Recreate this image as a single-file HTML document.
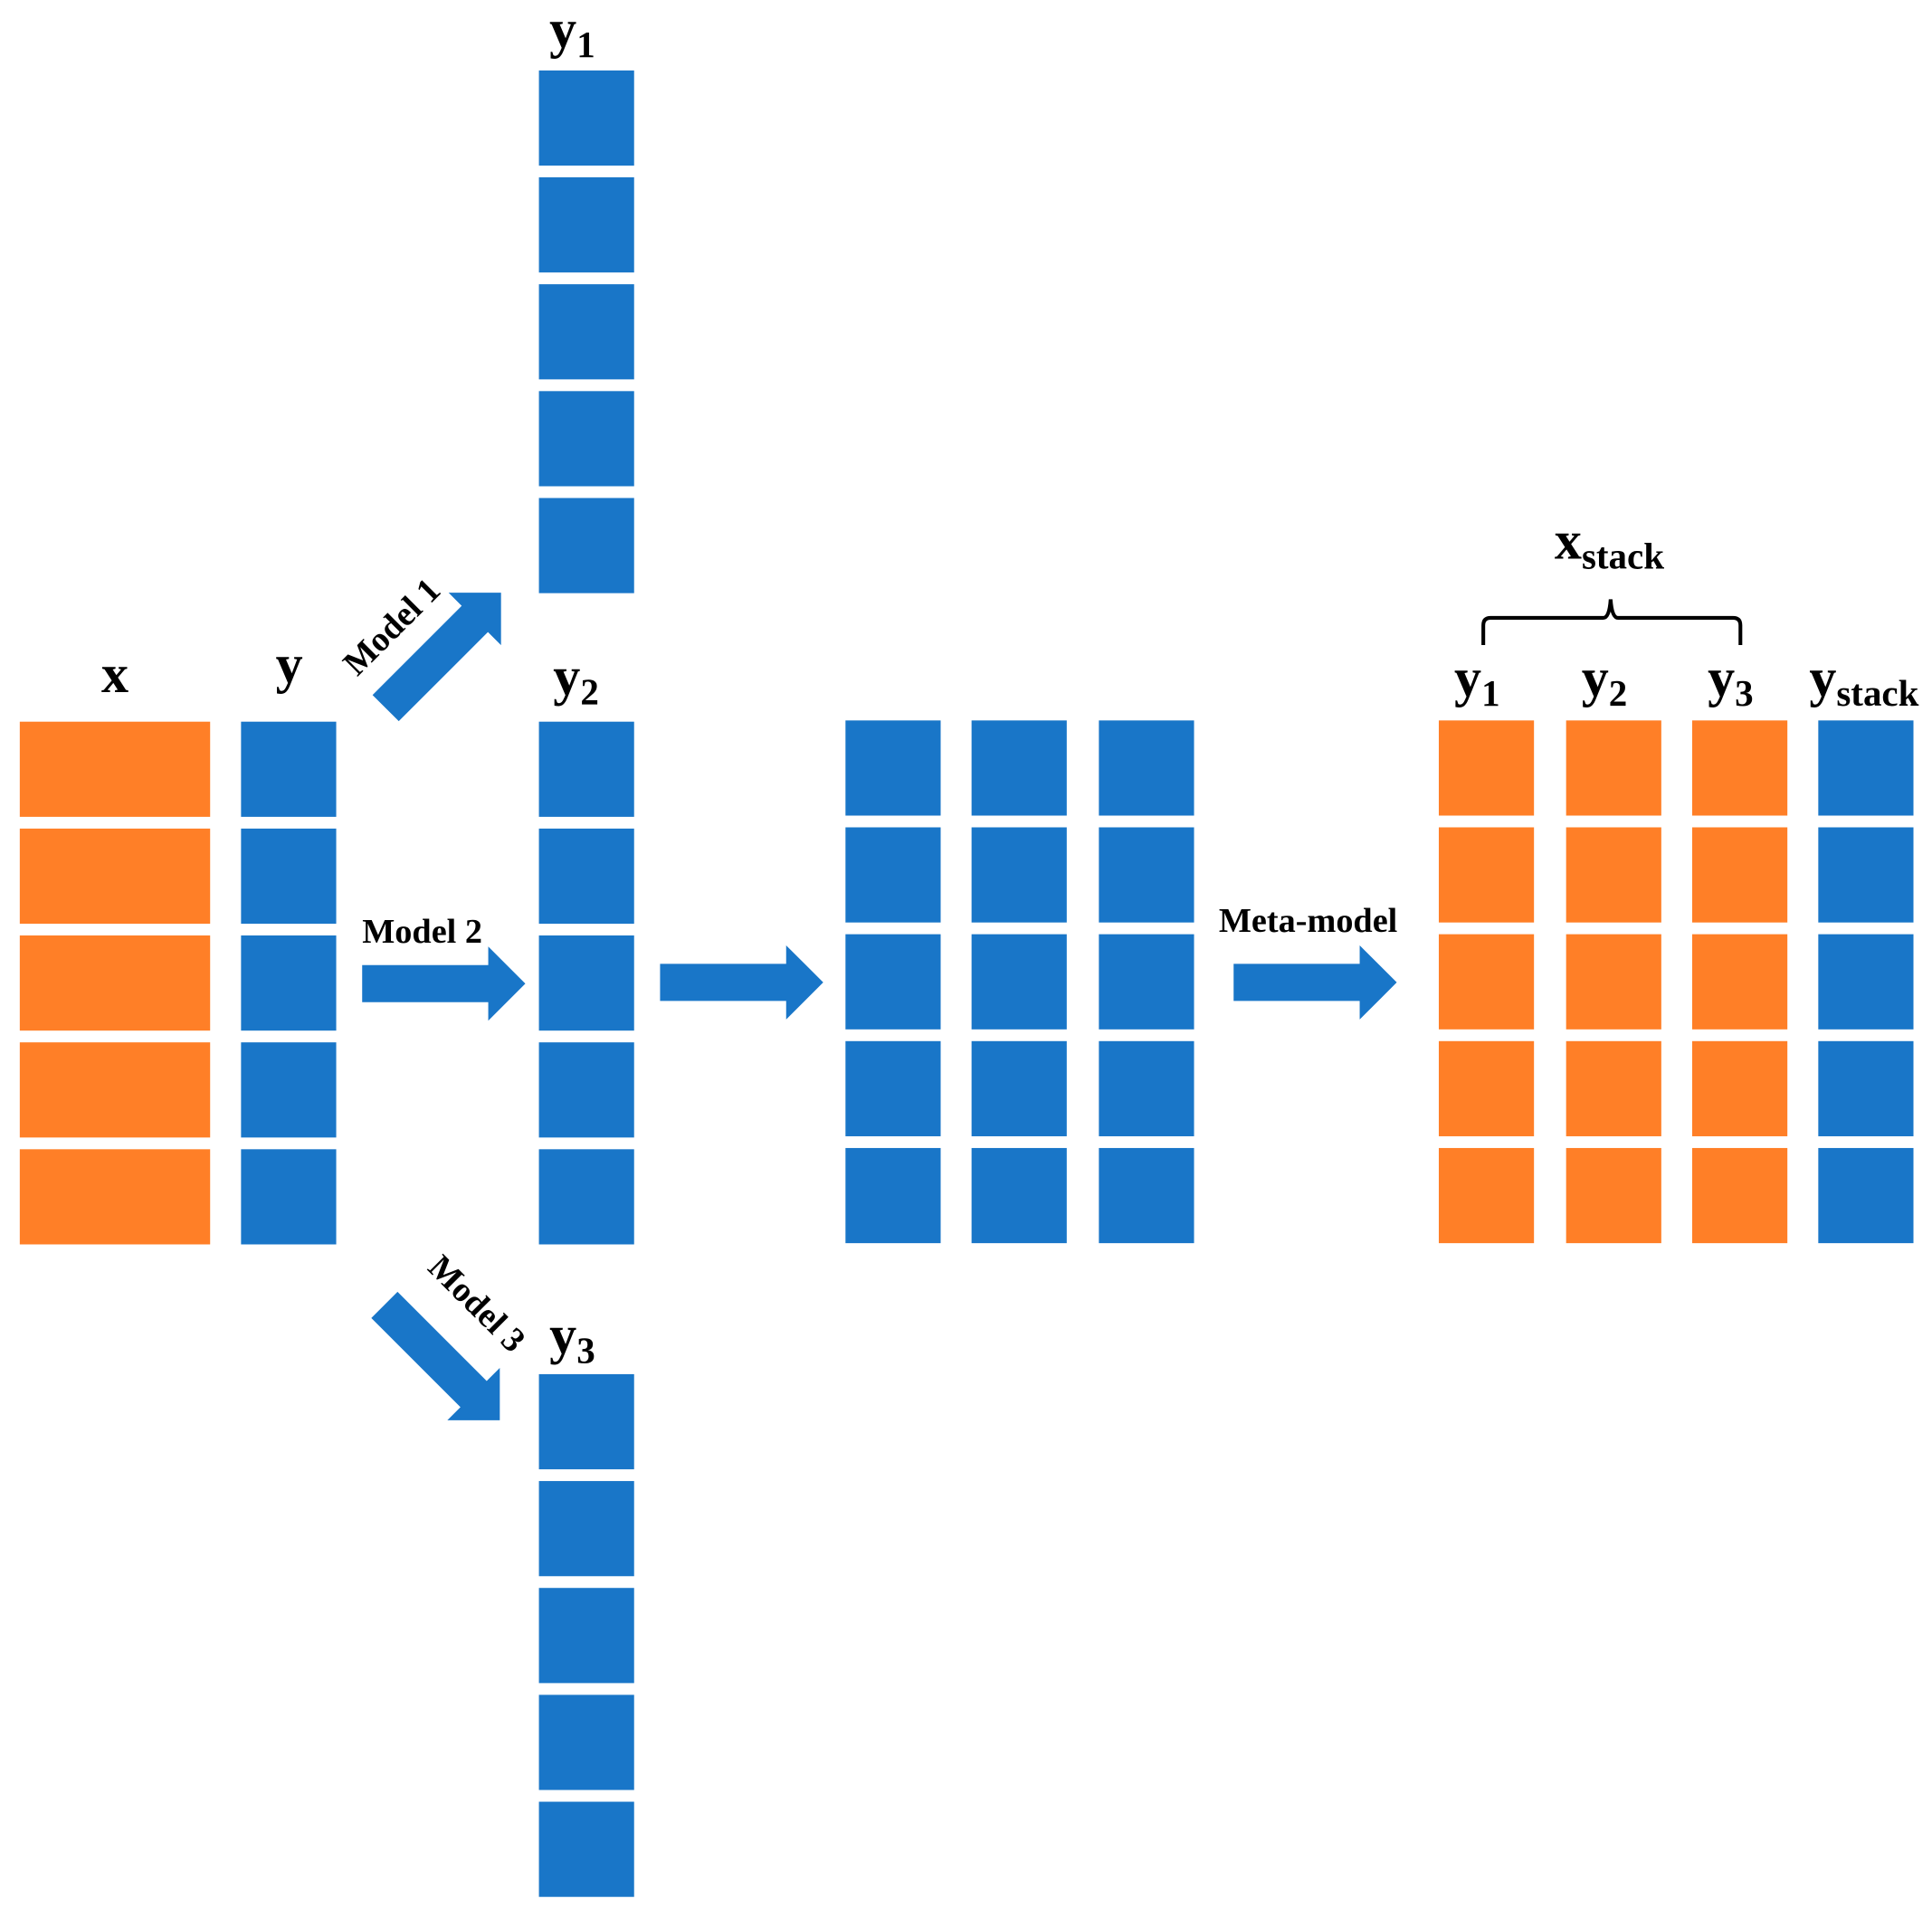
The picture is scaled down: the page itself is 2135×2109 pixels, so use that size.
<!DOCTYPE html>
<html><head><style>html,body{margin:0;padding:0;background:#fff}svg{display:block}</style></head>
<body>
<svg width="2135" height="2109" viewBox="0 0 1563 1544" preserveAspectRatio="none" xmlns="http://www.w3.org/2000/svg" font-family="Liberation Serif, serif" font-weight="bold">
<defs>
<g id="col"><rect x="0" y="0" width="77" height="77"/><rect x="0" y="86.5" width="77" height="77"/><rect x="0" y="173" width="77" height="77"/><rect x="0" y="259.5" width="77" height="77"/><rect x="0" y="346" width="77" height="77"/></g>
<polygon id="arr" points="0,-15 102,-15 102,-30 132,0 102,30 102,15 0,15"/>
</defs>
<g fill="#FF7F27">
<rect x="16" y="584" width="154" height="77"/><rect x="16" y="670.5" width="154" height="77"/><rect x="16" y="757" width="154" height="77"/><rect x="16" y="843.5" width="154" height="77"/><rect x="16" y="930" width="154" height="77"/>
<use href="#col" x="1164" y="583"/><use href="#col" x="1267" y="583"/><use href="#col" x="1369" y="583"/>
</g>
<g fill="#1976C8">
<use href="#col" x="195" y="584"/>
<use href="#col" x="436" y="57"/>
<use href="#col" x="436" y="584"/>
<use href="#col" x="436" y="1112"/>
<use href="#col" x="684" y="583"/><use href="#col" x="786" y="583"/><use href="#col" x="889" y="583"/>
<use href="#col" x="1471" y="583"/>
<use href="#arr" transform="translate(293,796)" />
<use href="#arr" transform="translate(534,795)" />
<use href="#arr" transform="translate(998,795)" />
<use href="#arr" transform="translate(312,573) rotate(-45)" />
<use href="#arr" transform="translate(311,1056) rotate(45)" />
</g>
<g fill="#000" font-size="44" text-anchor="middle">
<text x="93" y="560">x</text>
<text x="234" y="552">y</text>
<text x="463" y="38">y<tspan font-size="30" dy="8">1</tspan></text>
<text x="466" y="562">y<tspan font-size="30" dy="8">2</tspan></text>
<text x="463" y="1095">y<tspan font-size="30" dy="8">3</tspan></text>
<text x="1195" y="563">y<tspan font-size="30" dy="8">1</tspan></text>
<text x="1298" y="563">y<tspan font-size="30" dy="8">2</tspan></text>
<text x="1400" y="563">y<tspan font-size="30" dy="8">3</tspan></text>
<text x="1508" y="563">y<tspan font-size="30" dy="8">stack</tspan></text>
<text x="1302" y="452">x<tspan font-size="30" dy="8">stack</tspan></text>
</g>
<g fill="#000" font-size="28">
<text x="293" y="763">Model 2</text>
<text x="986" y="754">Meta-model</text>
<text transform="translate(289,548) rotate(-45)">Model 1</text>
<text transform="translate(345,1027) rotate(45)">Model 3</text>
</g>
<path d="M1200,522 L1200,506 Q1200,500 1206,500 L1297,500 Q1302,500 1303,485 Q1304,500 1309,500 L1402,500 Q1408,500 1408,506 L1408,522" fill="none" stroke="#000" stroke-width="3"/>
</svg>
</body></html>
